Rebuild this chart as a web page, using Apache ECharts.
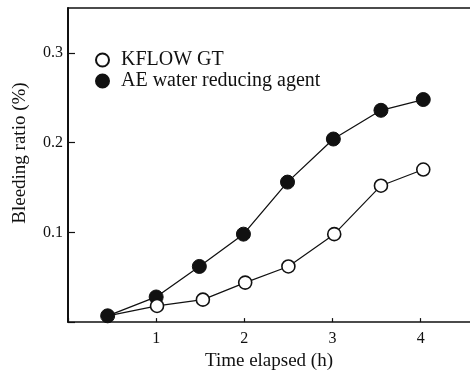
<!DOCTYPE html>
<html>
<head>
<meta charset="utf-8">
<script src="https://cdn.jsdelivr.net/npm/echarts@6/dist/echarts.min.js"></script>
<style>html,body{margin:0;padding:0;background:#fff}#c{width:470px;height:376px}</style>
</head>
<body>
<div id="c"></div>
<script>
// Data
const timeKflow = [0.45, 1.01, 1.53, 2.01, 2.5, 3.02, 3.55, 4.03];
const kflowGT   = [0.007, 0.018, 0.025, 0.044, 0.062, 0.098, 0.152, 0.170];
const timeAE    = [0.45, 1.0, 1.49, 1.99, 2.49, 3.01, 3.55, 4.03];
const aeAgent   = [0.007, 0.028, 0.062, 0.098, 0.156, 0.204, 0.236, 0.248];
const xTickLabels = ['1', '2', '3', '4'];
const yTickLabels = ['0.1', '0.2', '0.3'];
const seriesNames = ['KFLOW GT', 'AE water reducing agent'];

const font = 'Liberation Serif, Times New Roman, serif';
const ink = '#111';

const chart = echarts.init(document.getElementById('c'), null, {renderer: 'canvas'});
chart.setOption({
  animation: false,
  backgroundColor: '#fff',
  grid: {left: 68, top: 8, right: 0, bottom: 47, containLabel: false},
  legend: {
    orient: 'vertical', left: 90, top: 45, itemGap: 1, padding: 5,
    itemWidth: 27, itemHeight: 13, icon: 'circle',
    data: [seriesNames[0], seriesNames[1]],
    textStyle: {fontFamily: font, fontSize: 20, color: ink}
  },
  xAxis: [{
    type: 'value', min: 0, max: 4.56, interval: 1, position: 'bottom',
    axisLine: {show: true, onZero: false, lineStyle: {color: ink, width: 1.5}},
    axisTick: {show: true, inside: true, length: 4, lineStyle: {color: ink, width: 1.2}},
    axisLabel: {
      showMaxLabel: false, margin: 9, fontFamily: font, fontSize: 16, color: ink,
      formatter: v => { const i = Math.round(v) - 1; return (i >= 0 && i < xTickLabels.length && Math.abs(v - Math.round(v)) < 1e-6) ? xTickLabels[i] : ''; }
    },
    splitLine: {show: false},
    name: 'Time elapsed (h)', nameLocation: 'middle', nameGap: 29,
    nameTextStyle: {fontFamily: font, fontSize: 19, color: ink}
  }, {
    type: 'value', min: 0, max: 4.56, position: 'top',
    axisLine: {show: true, onZero: false, lineStyle: {color: ink, width: 1.5}},
    axisTick: {show: false}, axisLabel: {show: false}, splitLine: {show: false}
  }],
  yAxis: {
    type: 'value', min: 0, max: 0.35, interval: 0.1,
    axisLine: {show: true, onZero: false, lineStyle: {color: ink, width: 2}},
    axisTick: {show: true, inside: true, length: 7, lineStyle: {color: ink, width: 1.2}},
    axisLabel: {
      showMaxLabel: false, margin: 5, fontFamily: font, fontSize: 16, color: ink,
      formatter: v => { const i = Math.round(v * 10) - 1; return (i >= 0 && i < yTickLabels.length) ? yTickLabels[i] : ''; }
    },
    splitLine: {show: false},
    name: 'Bleeding ratio (%)', nameLocation: 'middle', nameGap: 38, nameRotate: 90,
    nameTextStyle: {fontFamily: font, fontSize: 19, color: ink, padding: [0, 0, 0, 24]}
  },
  series: [{
    name: seriesNames[1], type: 'line', z: 2,
    data: timeAE.map((t, i) => [t, aeAgent[i]]),
    symbol: 'circle', symbolSize: 14,
    lineStyle: {color: ink, width: 1.3},
    itemStyle: {color: ink, borderColor: ink, borderWidth: 1}
  }, {
    name: seriesNames[0], type: 'line', z: 3,
    data: timeKflow.map((t, i) => [t, kflowGT[i]]),
    symbol: (val, params) => params.dataIndex === 0 ? 'none' : 'circle',
    symbolSize: 13,
    lineStyle: {color: ink, width: 1.2},
    itemStyle: {color: '#fff', borderColor: ink, borderWidth: 1.6}
  }]
});
</script>
</body>
</html>
